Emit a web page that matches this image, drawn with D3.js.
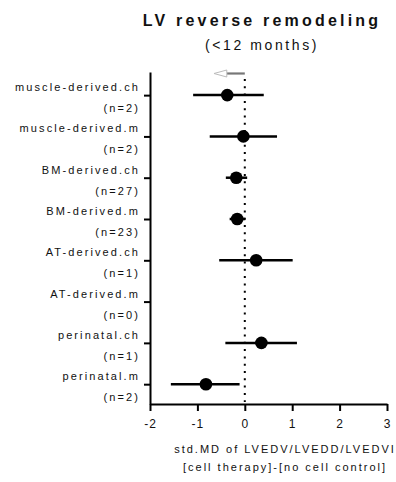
<!DOCTYPE html>
<html>
<head>
<meta charset="utf-8">
<script src="https://cdn.jsdelivr.net/npm/d3@7"></script>
<style>
  body { margin: 0; background: #fff; }
  text { font-family: Arial, "Liberation Sans", sans-serif; fill: #111; }
</style>
</head>
<body>
<div id="chart"></div>
<script>
// study subgroups, top to bottom
var groups = ["muscle-derived.ch", "muscle-derived.m", "BM-derived.ch", "BM-derived.m",
              "AT-derived.ch", "AT-derived.m", "perinatal.ch", "perinatal.m"];
var counts = [2, 2, 27, 23, 1, 0, 1, 2];
// standardized mean difference and 95% CI (null = no studies)
var smd   = [-0.37, -0.03, -0.18, -0.16, 0.24, null, 0.35, -0.82];
var lower = [-1.09, -0.74, -0.40, -0.32, -0.54, null, -0.41, -1.56];
var upper = [0.40, 0.68, 0.05, 0.01, 1.01, null, 1.10, -0.11];
var xTicks = [-2, -1, 0, 1, 2, 3];

var width = 396, height = 482;
var margin = { top: 72, right: 9, bottom: 78, left: 150 };

var svg = d3.select("#chart").append("svg")
  .attr("width", width)
  .attr("height", height);

// scales
var x = d3.scaleLinear().domain([-2, 3]).range([margin.left, width - margin.right]);
var y = d3.scaleLinear().domain([0.44, groups.length + 0.48]).range([margin.top, height - margin.bottom]);

var rows = groups.map(function (g, i) {
  return { name: g, n: counts[i], m: smd[i], lo: lower[i], hi: upper[i], idx: i + 1 };
});

// title
svg.append("text")
  .attr("x", 262).attr("y", 26)
  .attr("text-anchor", "middle")
  .style("font-size", "16px").style("font-weight", "bold").style("letter-spacing", "3.2px")
  .text("LV reverse remodeling");
svg.append("text")
  .attr("x", 262).attr("y", 50)
  .attr("text-anchor", "middle")
  .style("font-size", "14px").style("letter-spacing", "2.6px")
  .text("(<12 months)");

// zero reference line (dotted)
svg.append("line")
  .attr("x1", x(0)).attr("x2", x(0))
  .attr("y1", 79).attr("y2", height - margin.bottom - 2)
  .attr("stroke", "#000").attr("stroke-width", 2)
  .attr("stroke-dasharray", "2,5.3");

// arrow showing direction of improvement
svg.append("line")
  .attr("x1", x(0)).attr("x2", x(-0.38))
  .attr("y1", 73.5).attr("y2", 73.5)
  .attr("stroke", "#777").attr("stroke-width", 2.2);
svg.append("path")
  .attr("d", "M" + x(-0.38) + ",70 L" + x(-0.65) + ",73.5 L" + x(-0.38) + ",77 Z")
  .attr("fill", "#fff").attr("stroke", "#bbb").attr("stroke-width", 1);

// x axis
var xAxis = svg.append("g")
  .attr("transform", "translate(0," + (height - margin.bottom) + ")")
  .call(d3.axisBottom(x).tickValues(xTicks).tickSize(7).tickPadding(8).tickSizeOuter(0)
    .tickFormat(function (d) { return String(d); }));
xAxis.select(".domain").attr("stroke-width", 2);
xAxis.selectAll(".tick line").attr("stroke-width", 2);
xAxis.selectAll("text")
  .style("font-size", "12px").style("font-family", "Arial, 'Liberation Sans', sans-serif")
  .style("fill", "#111").style("letter-spacing", "1px");

// y axis
var yAxis = svg.append("g")
  .attr("transform", "translate(" + margin.left + ",0)")
  .call(d3.axisLeft(y).tickValues(rows.map(function (d) { return d.idx; }))
    .tickSize(6).tickSizeOuter(0).tickFormat(""));
yAxis.select(".domain").attr("stroke-width", 2);
yAxis.selectAll(".tick line").attr("stroke-width", 2);

// row labels
var labels = svg.append("g").attr("text-anchor", "end")
  .style("font-size", "11px").style("letter-spacing", "2.1px");
labels.selectAll(".name").data(rows).enter().append("text")
  .attr("class", "name")
  .attr("x", 140).attr("y", function (d) { return y(d.idx) - 4; })
  .text(function (d) { return d.name; });
labels.selectAll(".count").data(rows).enter().append("text")
  .attr("class", "count")
  .attr("x", 140).attr("y", function (d) { return y(d.idx) + 17; })
  .text(function (d) { return "(n=" + d.n + ")"; });

// confidence intervals and estimates
var est = rows.filter(function (d) { return d.m !== null; });
svg.selectAll(".ci").data(est).enter().append("line")
  .attr("class", "ci")
  .attr("x1", function (d) { return x(d.lo); })
  .attr("x2", function (d) { return x(d.hi); })
  .attr("y1", function (d) { return y(d.idx); })
  .attr("y2", function (d) { return y(d.idx); })
  .attr("stroke", "#000").attr("stroke-width", 2.5);
svg.selectAll(".pt").data(est).enter().append("circle")
  .attr("class", "pt")
  .attr("cx", function (d) { return x(d.m); })
  .attr("cy", function (d) { return y(d.idx); })
  .attr("r", 6.3)
  .attr("fill", "#000");

// x axis title
svg.append("text")
  .attr("x", 285).attr("y", 453)
  .attr("text-anchor", "middle")
  .style("font-size", "11px").style("letter-spacing", "2px")
  .text("std.MD of LVEDV/LVEDD/LVEDVI");
svg.append("text")
  .attr("x", 285).attr("y", 471)
  .attr("text-anchor", "middle")
  .style("font-size", "11px").style("letter-spacing", "2px")
  .text("[cell therapy]-[no cell control]");
</script>
</body>
</html>
